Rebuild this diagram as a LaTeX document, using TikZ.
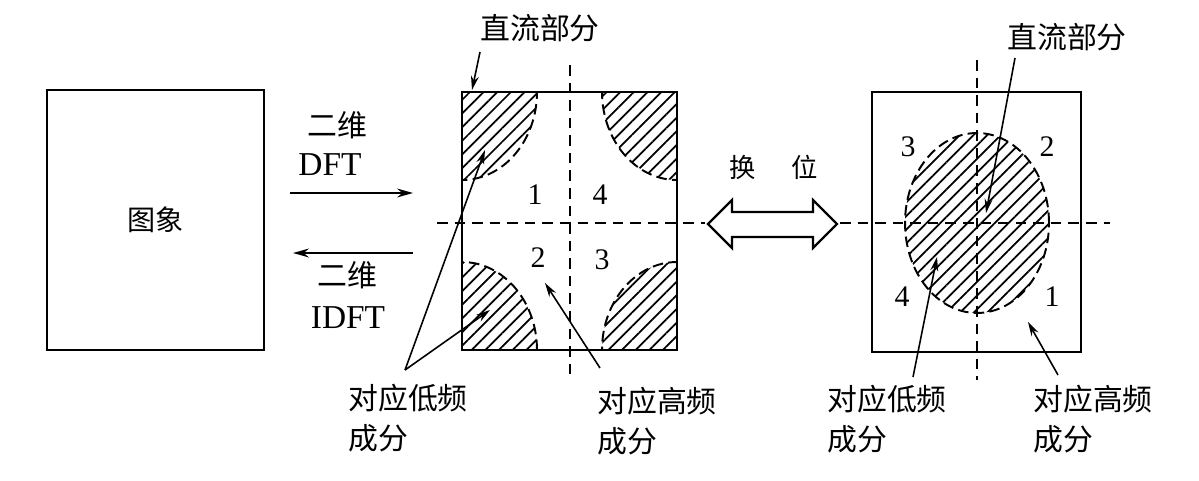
\documentclass[tikz,border=0pt]{standalone}
\usepackage{fontspec}
\setmainfont{Liberation Serif}
\newfontfamily\cjk{Noto Sans CJK SC}
\usetikzlibrary{arrows.meta,patterns.meta}
\begin{document}
\begin{tikzpicture}[x=0.02cm,y=-0.02cm,
 box/.style={draw, line width=1.6pt, inner sep=0},
 axisline/.style={line width=1pt, dash pattern=on 6pt off 4pt},
 hatch/.style={pattern={Lines[angle=45,distance=5.5pt,line width=1pt]}},
 rim/.style={line width=1.1pt, dash pattern=on 6pt off 3pt},
 lbl/.style={font=\cjk\fontsize{17}{23}\selectfont, inner sep=0, align=left},
 lat/.style={font=\fontsize{19}{22}\selectfont, inner sep=0},
 num/.style={font=\fontsize{17}{20}\selectfont, inner sep=0},
 ptr/.style={line width=0.9pt, -{Stealth[length=8pt,width=4.5pt]}},
 flow/.style={line width=1.3pt, -{Stealth[length=9pt,width=5pt]}}
]
\useasboundingbox (0,0) rectangle (1199,480);

% image box
\node[box, minimum width=4.34cm, minimum height=5.2cm,
      font=\cjk\fontsize{16}{20}\selectfont] (img) at (155.5,220) {图象};

% DFT / IDFT
\node[lbl] (t1) at (337,125) {二维};
\node[lat] (t2) at (330,165) {DFT};
\node[lbl] (t3) at (347,275) {二维};
\node[lat] (t4) at (348,318) {IDFT};
\coordinate (dftA) at (290,193);
\coordinate (dftB) at (413,193);
\coordinate (idftA) at (413,253);
\coordinate (idftB) at (293,253);
\draw[flow] (dftA) -- (dftB);
\draw[flow] (idftA) -- (idftB);

% middle spectrum: hatched corners
\begin{scope}
  \clip (462,92) rectangle (677,350);
  \foreach \p in {(462,92),(677,92),(462,350),(677,350)}{
    \fill[hatch] \p ellipse [x radius=1.5cm, y radius=1.76cm];
    \draw[rim] \p ellipse [x radius=1.5cm, y radius=1.76cm];
  }
\end{scope}
\draw[axisline] (570,65) -- (570,380);
\draw[axisline] (437,223) -- (705,223);
\node[box, minimum width=4.3cm, minimum height=5.16cm] (sq1) at (569.5,221) {};
\node[num] (m1) at (535,195) {1};
\node[num] (m4) at (600,195) {4};
\node[num] (m2) at (538,258) {2};
\node[num] (m3) at (602,260) {3};

% shift arrow
\node[font=\cjk\fontsize{15}{18}\selectfont, inner sep=0] (hw1) at (743,167) {换};
\node[font=\cjk\fontsize{15}{18}\selectfont, inner sep=0] (hw2) at (805,167) {位};
\draw[line width=1.3pt, fill=white, line join=miter]
  (708,224) -- (732,200) -- (732,212) -- (813,212) -- (813,200) -- (837,224)
  -- (813,248) -- (813,237) -- (732,237) -- (732,248) -- cycle;

% right spectrum: centered
\fill[hatch] (977,223) ellipse [x radius=1.44cm, y radius=1.8cm];
\draw[rim] (977,223) ellipse [x radius=1.44cm, y radius=1.8cm];
\draw[axisline] (977,60) -- (977,380);
\draw[axisline] (840,223) -- (1110,223);
\node[box, minimum width=4.18cm, minimum height=5.2cm] (sq2) at (976.5,222) {};
\node[num] (r3) at (908,147) {3};
\node[num] (r2) at (1047,147) {2};
\node[num] (r4) at (902,297) {4};
\node[num] (r1) at (1052,297) {1};

% labels
\node[lbl] (dc1) at (540,28) {直流部分};
\node[lbl] (dc2) at (1067,37) {直流部分};
\node[lbl, anchor=west] (low1) at (348,418) {对应低频\\成分};
\node[lbl, anchor=west] (high1) at (597,421) {对应高频\\成分};
\node[lbl, anchor=west] (low2) at (827,419) {对应低频\\成分};
\node[lbl, anchor=west] (high2) at (1033,419) {对应高频\\成分};

% pointers
\coordinate (dc1a) at (480,52);
\coordinate (dc1b) at (472,90);
\draw[ptr] (dc1a) -- (dc1b);
\coordinate (lowA) at (405,370);
\coordinate (lowT1) at (485,150);
\coordinate (lowT2) at (490,310);
\draw[ptr] (lowA) -- (lowT1);
\draw[ptr] (lowA) -- (lowT2);
\coordinate (highA) at (600,368);
\coordinate (highT) at (545,283);
\draw[ptr] (highA) -- (highT);

\coordinate (dc2a) at (1015,58);
\coordinate (dc2b) at (986,213);
\draw[ptr] (dc2a) -- (dc2b);
\coordinate (low2A) at (913,377);
\coordinate (low2T) at (937,257);
\draw[ptr] (low2A) -- (low2T);
\coordinate (high2A) at (1058,375);
\coordinate (high2T) at (1028,322);
\draw[ptr] (high2A) -- (high2T);
\end{tikzpicture}
\end{document}
